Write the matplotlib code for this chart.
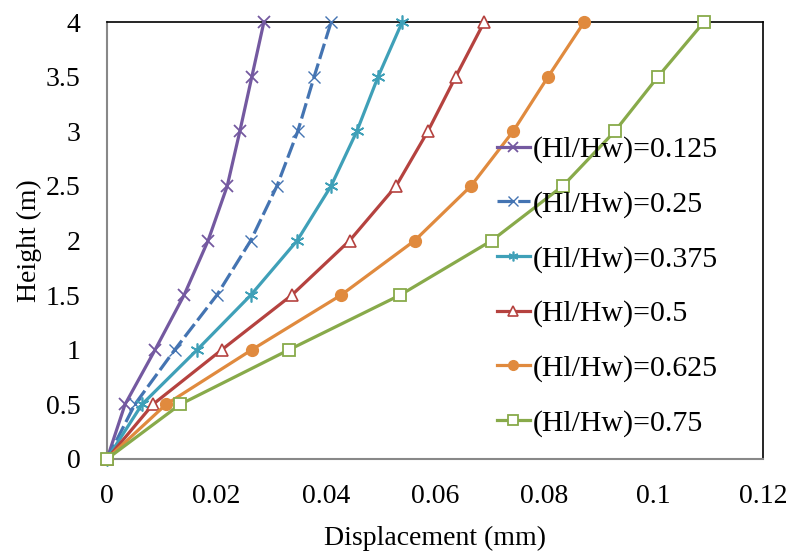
import matplotlib
matplotlib.use("Agg")
import matplotlib.pyplot as plt

heights = [0, 0.5, 1, 1.5, 2, 2.5, 3, 3.5, 4]
labels = ["(Hl/Hw)=0.125", "(Hl/Hw)=0.25", "(Hl/Hw)=0.375",
          "(Hl/Hw)=0.5", "(Hl/Hw)=0.625", "(Hl/Hw)=0.75"]
disp_0125 = [0, 0.0033, 0.0088, 0.0141, 0.0185, 0.0220, 0.0243, 0.0265, 0.0287]
disp_025 = [0, 0.0051, 0.0124, 0.0201, 0.0263, 0.0311, 0.0349, 0.0379, 0.0410]
disp_0375 = [0, 0.0064, 0.0165, 0.0263, 0.0348, 0.0410, 0.0457, 0.0496, 0.0540]
disp_05 = [0, 0.0084, 0.0210, 0.0338, 0.0444, 0.0529, 0.0587, 0.0638, 0.0690]
disp_0625 = [0, 0.0108, 0.0265, 0.0428, 0.0563, 0.0666, 0.0743, 0.0807, 0.0873]
disp_075 = [0, 0.0134, 0.0333, 0.0536, 0.0704, 0.0834, 0.0929, 0.1008, 0.1092]
series = [disp_0125, disp_025, disp_0375, disp_05, disp_0625, disp_075]

xticks = [0, 0.02, 0.04, 0.06, 0.08, 0.1, 0.12]
xticklabels = ["0", "0.02", "0.04", "0.06", "0.08", "0.1", "0.12"]
yticks = [0, 0.5, 1, 1.5, 2, 2.5, 3, 3.5, 4]
yticklabels = ["0", "0.5", "1", "1.5", "2", "2.5", "3", "3.5", "4"]

plt.rcParams['font.family'] = ['Liberation Serif', 'DejaVu Serif']

colors = ["#7459A0", "#4474B2", "#3FA0B8", "#B5423F", "#E08A3E", "#88AA4A"]
styles = [
    dict(marker='x', ms=9, mew=1.3, mfc='none', ls='-'),
    dict(marker='x', ms=9, mew=1.0, mfc='none', ls=(0, (5, 1.5))),
    dict(marker=(6, 2, 0), ms=10, mew=1.2, mfc='none', ls='-'),
    dict(marker='^', ms=9, mew=1.2, mfc='white', ls='-'),
    dict(marker='o', ms=8.5, mew=1.0, ls='-'),
    dict(marker='s', ms=8, mew=1.3, mfc='white', ls='-'),
]

fig = plt.figure(figsize=(7.92, 5.51), dpi=100)
ax = fig.add_axes([107/792, 1 - 459/551, (763-107)/792, (459-22)/551])

for d, lab, c, st in zip(series, labels, colors, styles):
    kw = dict(st)
    kw.setdefault('mfc', c)
    ax.plot(d, heights, color=c, lw=2.3, label=lab, mec=c,
            clip_on=False, zorder=3, **kw)

ax.set_xlim(0, 0.12)
ax.set_ylim(0, 4)
ax.set_xticks(xticks)
ax.set_xticklabels(xticklabels)
ax.set_yticks(yticks)
ax.set_yticklabels(yticklabels)
ax.tick_params(length=0, labelsize=20)
ax.tick_params(axis='x', pad=18)
ax.tick_params(axis='y', pad=19)
for s in ['left', 'bottom']:
    ax.spines[s].set_color('#888888')
    ax.spines[s].set_linewidth(1.5)
for s in ['top', 'right']:
    ax.spines[s].set_color('black')
    ax.spines[s].set_linewidth(1.2)

ax.set_xlabel("Displacement (mm)", fontsize=20, labelpad=12)
ax.set_ylabel("Height (m)", fontsize=20, labelpad=3)

leg = ax.legend(loc='upper left', bbox_to_anchor=(0.594, 0.739), frameon=False,
                fontsize=21.5, handlelength=1.1, handletextpad=0.1,
                labelspacing=0.92, borderaxespad=0, borderpad=0)
for h in leg.legend_handles:
    h.set_markersize(7)

fig.savefig("out.png", dpi=100)
